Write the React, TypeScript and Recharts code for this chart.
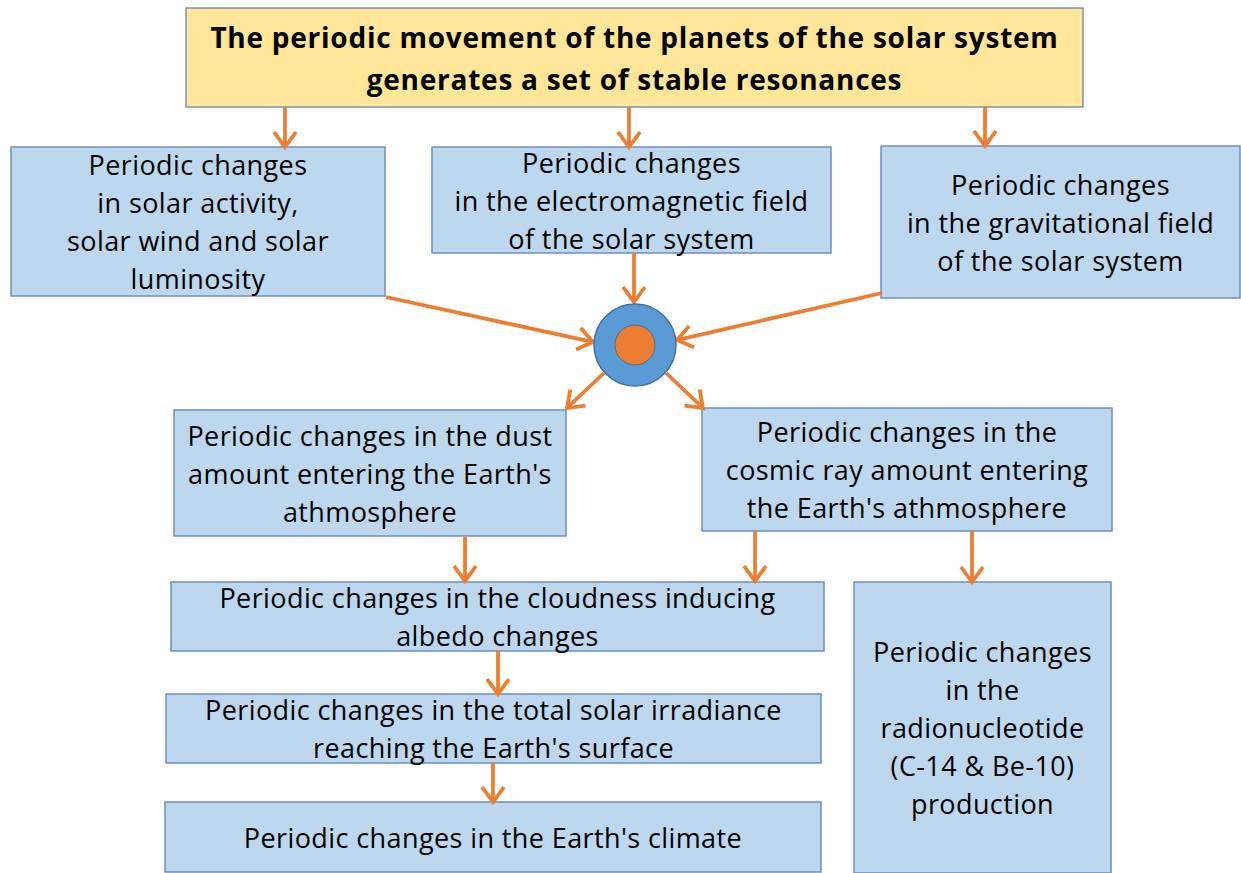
import React from 'react';
import { ComposedChart, XAxis, YAxis, ReferenceArea, ReferenceLine, Scatter } from 'recharts';

const W = 1241;
const H = 873;
const FONT = '"Open Sans", Lato, sans-serif';

// Title node
const titleLines = [
  'The periodic movement of the planets of the solar system',
  'generates a set of stable resonances',
];
const titleLeft = 186;
const titleRight = 1083;
const titleTop = 8;
const titleBottom = 107;

// Blue nodes
const nodeLabels: string[][] = [
  ['Periodic changes', 'in solar activity,', 'solar wind and solar', 'luminosity'],
  ['Periodic changes', 'in the electromagnetic field', 'of the solar system'],
  ['Periodic changes', 'in the gravitational field', 'of the solar system'],
  ['Periodic changes in the dust', "amount entering the Earth's", 'athmosphere'],
  ['Periodic changes in the', 'cosmic ray amount entering', "the Earth's athmosphere"],
  ['Periodic changes in the cloudness inducing', 'albedo changes'],
  ['Periodic changes in the total solar irradiance', "reaching the Earth's surface"],
  ["Periodic changes in the Earth's climate"],
  ['Periodic changes', 'in the', 'radionucleotide', '(C-14 & Be-10)', 'production'],
];
const nodeLeft = [11, 432, 881, 174, 702, 171, 166, 165, 854];
const nodeRight = [385, 831, 1240, 566, 1112, 824, 821, 821, 1111];
const nodeTop = [147, 147, 146, 410, 408, 582, 694, 802, 582];
const nodeBottom = [296, 253, 298, 536, 531, 651, 763, 872, 873];

// Central hub
const hub = [{ x: 635, y: 345 }];

// Arrows (start -> end, tip at end)
const arrowStartX = [285, 629, 985, 634, 386, 882, 604, 666, 465, 755, 972, 498, 493];
const arrowStartY = [107, 107, 107, 253, 297, 293, 373, 373, 537, 531, 531, 651, 763];
const arrowEndX = [285, 629, 985, 634, 593, 677, 567, 703, 465, 755, 972, 498, 493];
const arrowEndY = [147, 147, 146, 302, 342, 340, 408, 408, 581, 581, 582, 694, 802];

const ORANGE = '#ED7D31';

const Arrow = (p: any) => {
  const { x1, y1, x2, y2 } = p;
  const dx = x2 - x1;
  const dy = y2 - y1;
  const len = Math.sqrt(dx * dx + dy * dy) || 1;
  const ux = dx / len;
  const uy = dy / len;
  const hl = 15;
  const hw = 11;
  const bx = x2 - ux * hl;
  const by = y2 - uy * hl;
  const ax = bx - uy * hw;
  const ay = by + ux * hw;
  const cx = bx + uy * hw;
  const cy = by - ux * hw;
  return (
    <g>
      <line x1={x1} y1={y1} x2={x2 - ux * 2} y2={y2 - uy * 2} stroke={ORANGE} strokeWidth={3.75} />
      <polyline
        points={`${ax},${ay} ${x2},${y2} ${cx},${cy}`}
        fill="none"
        stroke={ORANGE}
        strokeWidth={3.75}
        strokeLinejoin="miter"
      />
    </g>
  );
};

const makeLabel = (
  lines: string[],
  fontSize: number,
  lineH: number,
  bold: boolean,
  spacing: number
) => (props: any) => {
  const vb = props.viewBox || {};
  const cx = vb.x + vb.width / 2;
  const cy = vb.y + vb.height / 2;
  const start = cy - ((lines.length - 1) * lineH) / 2;
  return (
    <g>
      {lines.map((t, i) => (
        <text
          key={i}
          x={cx}
          y={start + i * lineH}
          textAnchor="middle"
          dominantBaseline="central"
          fontFamily={FONT}
          fontSize={fontSize}
          fontWeight={bold ? 700 : 400}
          letterSpacing={spacing}
          fill="#000"
        >
          {t}
        </text>
      ))}
    </g>
  );
};

const Hub = (p: any) => {
  const { cx, cy } = p;
  return (
    <g>
      <circle cx={cx} cy={cy} r={41} fill="#5B9BD5" stroke="#41719C" strokeWidth={1.5} />
      <circle cx={cx} cy={cy} r={20} fill={ORANGE} stroke="#41719C" strokeWidth={1} />
    </g>
  );
};

export default function App() {
  return (
    <div style={{ position: 'absolute', left: 0, top: 0, width: W, height: H, background: '#fff' }}>
      <ComposedChart width={W} height={H} margin={{ top: 0, right: 0, bottom: 0, left: 0 }} data={hub}>
        <XAxis type="number" dataKey="x" domain={[0, W]} hide scale="linear" />
        <YAxis type="number" dataKey="y" domain={[0, H]} reversed hide scale="linear" />
        <ReferenceArea
          x1={titleLeft}
          x2={titleRight}
          y1={titleTop}
          y2={titleBottom}
          fill="#FFE699"
          fillOpacity={1}
          stroke="#7A93B8"
          strokeWidth={1.5}
          label={makeLabel(titleLines, 28, 42, true, 0.75)}
        />
        {nodeLabels.map((lines, i) => (
          <ReferenceArea
            key={'n' + i}
            x1={nodeLeft[i]}
            x2={nodeRight[i]}
            y1={nodeTop[i]}
            y2={nodeBottom[i]}
            fill="#BDD7EE"
            fillOpacity={1}
            stroke="#6E8FBE"
            strokeWidth={1.5}
            label={makeLabel(lines, 27, 38, false, 0.4)}
          />
        ))}
        {arrowStartX.map((_, i) => (
          <ReferenceLine
            key={'a' + i}
            segment={[
              { x: arrowStartX[i], y: arrowStartY[i] },
              { x: arrowEndX[i], y: arrowEndY[i] },
            ]}
            shape={Arrow}
          />
        ))}
        <Scatter data={hub} dataKey="y" isAnimationActive={false} shape={Hub} />
      </ComposedChart>
    </div>
  );
}
